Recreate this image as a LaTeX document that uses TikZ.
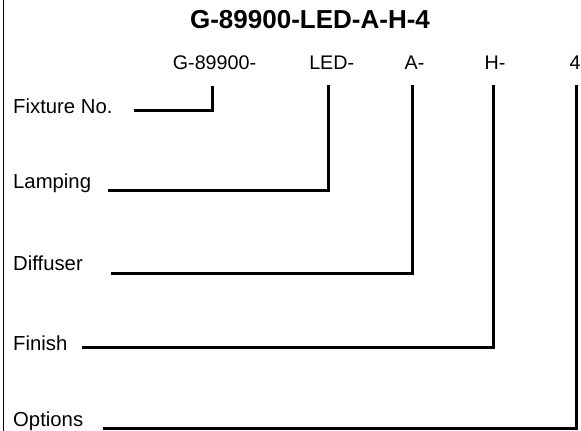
\documentclass[tikz,border=0pt]{standalone}
\usepackage{fontspec}
\setmainfont{Liberation Sans}
\usetikzlibrary{positioning}
\begin{document}
\begin{tikzpicture}[x=1pt,y=-1pt,
    txt/.style={inner sep=0pt,font=\fontsize{19.7}{22}\selectfont},
    lbl/.style={txt,anchor=base west,font=\fontsize{20.3}{22}\selectfont},
    code/.style={txt,anchor=base},
    lead/.style={line width=3pt}]
    \useasboundingbox (0,0) rectangle (581,431);
    \draw[line width=0.9pt] (3,0) -- (3,431);
    \node[inner sep=0pt,anchor=base,font=\bfseries\fontsize{26}{30}\selectfont] (title) at (310,28) {G-89900-LED-A-H-4};
    % code parts
    \node[code] (cfix) at (214.5,69) {G-89900-};
    \node[code] (clamp) at (331.7,69) {LED-};
    \node[code] (cdiff) at (414.5,69) {A-};
    \node[code] (cfin) at (495,69) {H-};
    \node[code] (copt) at (575,69) {4};
    % row labels
    \node[lbl] (lfix) at (13,113) {Fixture No.};
    \node[lbl] (llamp) at (13,188) {Lamping};
    \node[lbl] (ldiff) at (13,270) {Diffuser};
    \node[lbl] (lfin) at (13,350) {Finish};
    \node[lbl] (lopt) at (13,426) {Options};
    % leader lines
    \coordinate (sfix) at (134,110);   \coordinate (tfix) at (212,86);
    \coordinate (slamp) at (108,190);  \coordinate (tlamp) at (328,85);
    \coordinate (sdiff) at (111,273);  \coordinate (tdiff) at (412,85);
    \coordinate (sfin) at (82,347);    \coordinate (tfin) at (493,85);
    \coordinate (sopt) at (103,428.5); \coordinate (topt) at (576,85);
    \foreach \n in {fix,lamp,diff,fin,opt}{\draw[lead] (s\n) -| (t\n);}
\end{tikzpicture}
\end{document}
